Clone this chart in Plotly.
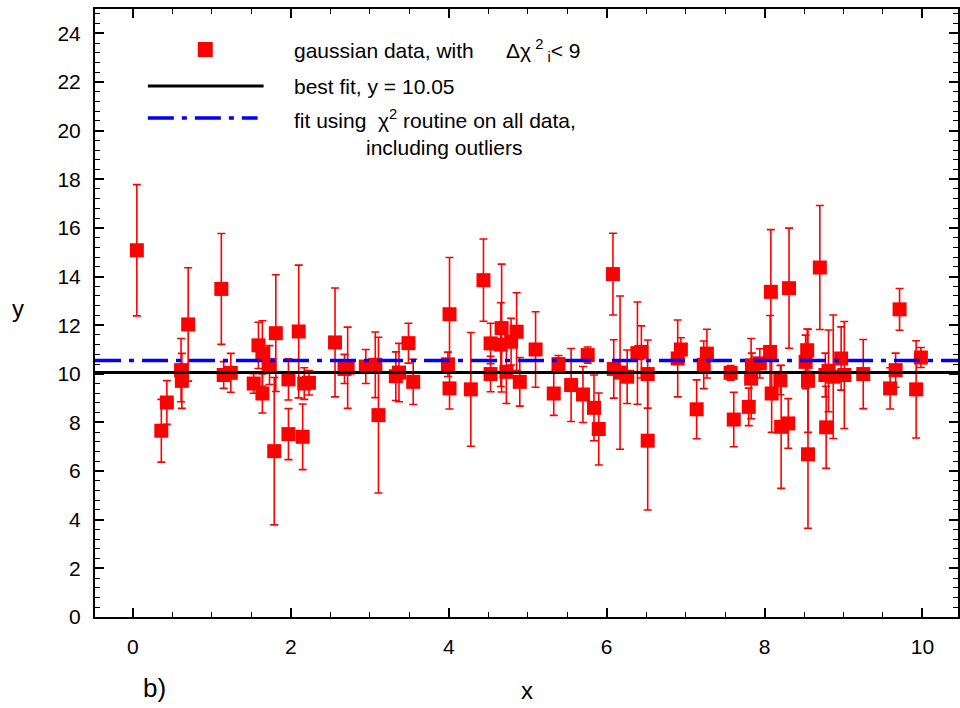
import plotly.graph_objects as go

# ---- data ----
x_vals = [0.05, 0.36, 0.43, 0.61, 0.62, 0.70, 1.12, 1.15, 1.24, 1.53,
          1.59, 1.64, 1.64, 1.73, 1.79, 1.81, 1.97, 1.97, 2.10, 2.15,
          2.17, 2.23, 2.56, 2.68, 2.72, 2.95, 3.07, 3.11, 3.33, 3.37,
          3.49, 3.55, 3.99, 4.01, 4.01, 4.28, 4.44, 4.53, 4.53, 4.66,
          4.67, 4.73, 4.79, 4.86, 4.90, 5.10, 5.33, 5.39, 5.55, 5.70,
          5.76, 5.84, 5.90, 6.08, 6.09, 6.17, 6.26, 6.39, 6.44, 6.52,
          6.52, 6.90, 6.94, 7.14, 7.23, 7.27, 7.57, 7.61, 7.80, 7.83,
          7.84, 7.94, 8.07, 8.08, 8.09, 8.20, 8.21, 8.30, 8.31, 8.52,
          8.54, 8.55, 8.55, 8.70, 8.77, 8.78, 8.81, 8.87, 8.97, 9.01,
          9.25, 9.59, 9.66, 9.71, 9.92, 9.98]
y_vals = [15.08, 7.66, 8.82, 10.15, 9.71, 12.03, 13.49, 9.95, 10.04, 9.60,
          11.17, 10.84, 9.19, 10.36, 6.82, 11.67, 9.77, 7.52, 11.74, 7.41,
          9.60, 9.63, 11.29, 10.20, 10.25, 10.30, 10.37, 8.30, 9.90, 10.05,
          11.26, 9.67, 10.39, 12.45, 9.40, 9.36, 13.85, 11.25, 9.99, 11.20,
          11.88, 10.08, 11.32, 11.73, 9.67, 11.00, 9.19, 10.40, 9.54, 9.15,
          10.77, 8.60, 7.73, 14.10, 10.20, 10.05, 9.88, 10.85, 10.90, 9.99,
          7.25, 10.63, 11.00, 8.54, 10.37, 10.83, 10.04, 8.12, 8.64, 9.80,
          10.35, 10.43, 10.90, 13.37, 9.19, 9.74, 7.82, 7.96, 13.52, 10.49,
          10.97, 9.71, 6.69, 14.37, 9.95, 7.80, 10.12, 9.88, 10.63, 9.95,
          9.99, 9.40, 10.15, 12.65, 9.36, 10.67]
y_err = [2.70, 1.29, 0.90, 1.30, 1.13, 2.33, 2.28, 0.55, 0.80, 0.40,
         0.95, 1.34, 0.80, 0.80, 3.03, 2.40, 0.85, 1.05, 2.73, 1.35,
         0.65, 0.50, 2.24, 0.60, 1.67, 0.70, 1.35, 3.20, 1.00, 1.20,
         0.82, 0.93, 0.50, 2.33, 0.85, 2.34, 1.69, 0.83, 0.73, 1.72,
         2.63, 1.30, 0.96, 1.60, 1.00, 1.55, 0.90, 0.35, 1.50, 1.15,
         0.33, 1.35, 1.48, 1.68, 1.20, 3.15, 1.10, 2.10, 1.07, 1.40,
         2.85, 1.58, 0.48, 1.21, 0.98, 1.00, 0.30, 1.12, 0.77, 1.65,
         0.50, 0.60, 1.50, 2.56, 1.60, 0.60, 2.53, 1.02, 2.47, 1.10,
         0.87, 2.12, 3.04, 2.55, 0.90, 1.69, 1.68, 2.54, 1.30, 2.20,
         1.42, 0.85, 0.70, 0.86, 2.00, 0.41]

best_fit = 10.05
fit_all_data = 10.55
x_range = [-0.48, 10.45]
y_range = [0, 25]

legend_texts = [
    "gaussian data, with",
    "Δχ<sup> 2</sup><sub> i</sub>< 9",
    "best fit, y = 10.05",
    "fit using  χ<sup>2</sup> routine on all data,",
    "including outliers",
]
legend_x_px = [292, 505, 292, 292, 365]
legend_y_px = [50, 50, 87, 119, 147]

FONT = "Liberation Sans, Arial, sans-serif"

fig = go.Figure()

fig.add_trace(go.Scatter(
    x=x_vals, y=y_vals, mode="markers",
    marker=dict(symbol="square", size=14, color="#ff0000"),
    error_y=dict(type="data", array=y_err, visible=True,
                 color="#ff0000", thickness=1.6, width=4),
    showlegend=False,
))

fig.add_trace(go.Scatter(
    x=x_range, y=[best_fit, best_fit], mode="lines",
    line=dict(color="black", width=3), showlegend=False,
))
fig.add_trace(go.Scatter(
    x=x_range, y=[fit_all_data, fit_all_data], mode="lines",
    line=dict(color="#0000ff", width=3.5, dash="26px,8px,5px,8px"),
    showlegend=False,
))

# ---- manual legend (paper coordinates) ----
L, W = 95.0, 865.0
T, H = 617.0, 608.0
def px(xp):
    return (xp - L) / W
def py(yp):
    return (T - yp) / H

shapes = [
    dict(type="rect", xref="paper", yref="paper",
         x0=px(198), x1=px(213), y0=py(57), y1=py(42),
         fillcolor="#ff0000", line=dict(width=0)),
    dict(type="line", xref="paper", yref="paper",
         x0=px(148), x1=px(264), y0=py(86), y1=py(86),
         line=dict(color="black", width=3)),
    dict(type="line", xref="paper", yref="paper",
         x0=px(148), x1=px(258), y0=py(118), y1=py(118),
         line=dict(color="#0000ff", width=3.5, dash="26px,8px,5px,8px")),
]

annotations = []
for txt, xp, yp in zip(legend_texts, legend_x_px, legend_y_px):
    annotations.append(dict(
        text=txt, xref="paper", yref="paper", x=px(xp), y=py(yp),
        xanchor="left", yanchor="middle", showarrow=False,
        font=dict(family=FONT, size=21, color="black")))

annotations += [
    dict(text="y", xref="paper", yref="paper", x=px(18), y=py(308),
         xanchor="center", yanchor="middle", showarrow=False,
         font=dict(family=FONT, size=24, color="black")),
    dict(text="x", xref="paper", yref="paper", x=px(528), y=py(690),
         xanchor="center", yanchor="middle", showarrow=False,
         font=dict(family=FONT, size=24, color="black")),
    dict(text="b)", xref="paper", yref="paper", x=px(155), y=py(688),
         xanchor="center", yanchor="middle", showarrow=False,
         font=dict(family=FONT, size=26, color="black")),
]

axis_common = dict(
    showgrid=False, zeroline=False, showline=True, linecolor="black",
    linewidth=2, mirror="allticks", ticks="inside", tickcolor="black",
    tickwidth=1.5, ticklen=9,
    tickfont=dict(family=FONT, size=21, color="black"),
)

fig.update_xaxes(range=x_range, dtick=2, tick0=0,
                 minor=dict(dtick=0.5, ticks="inside", ticklen=5,
                            tickcolor="black", tickwidth=1.2),
                 ticklabelstandoff=10, **axis_common)
fig.update_yaxes(range=y_range, dtick=2, tick0=0,
                 minor=dict(dtick=0.4, ticks="inside", ticklen=5,
                            tickcolor="black", tickwidth=1.2),
                 ticklabelstandoff=8, **axis_common)

fig.update_layout(
    width=960, height=708,
    margin=dict(l=95, r=0, t=9, b=91, pad=0),
    paper_bgcolor="white", plot_bgcolor="white",
    shapes=shapes, annotations=annotations,
    showlegend=False,
    font=dict(family=FONT),
)

fig.write_html("out.html")
